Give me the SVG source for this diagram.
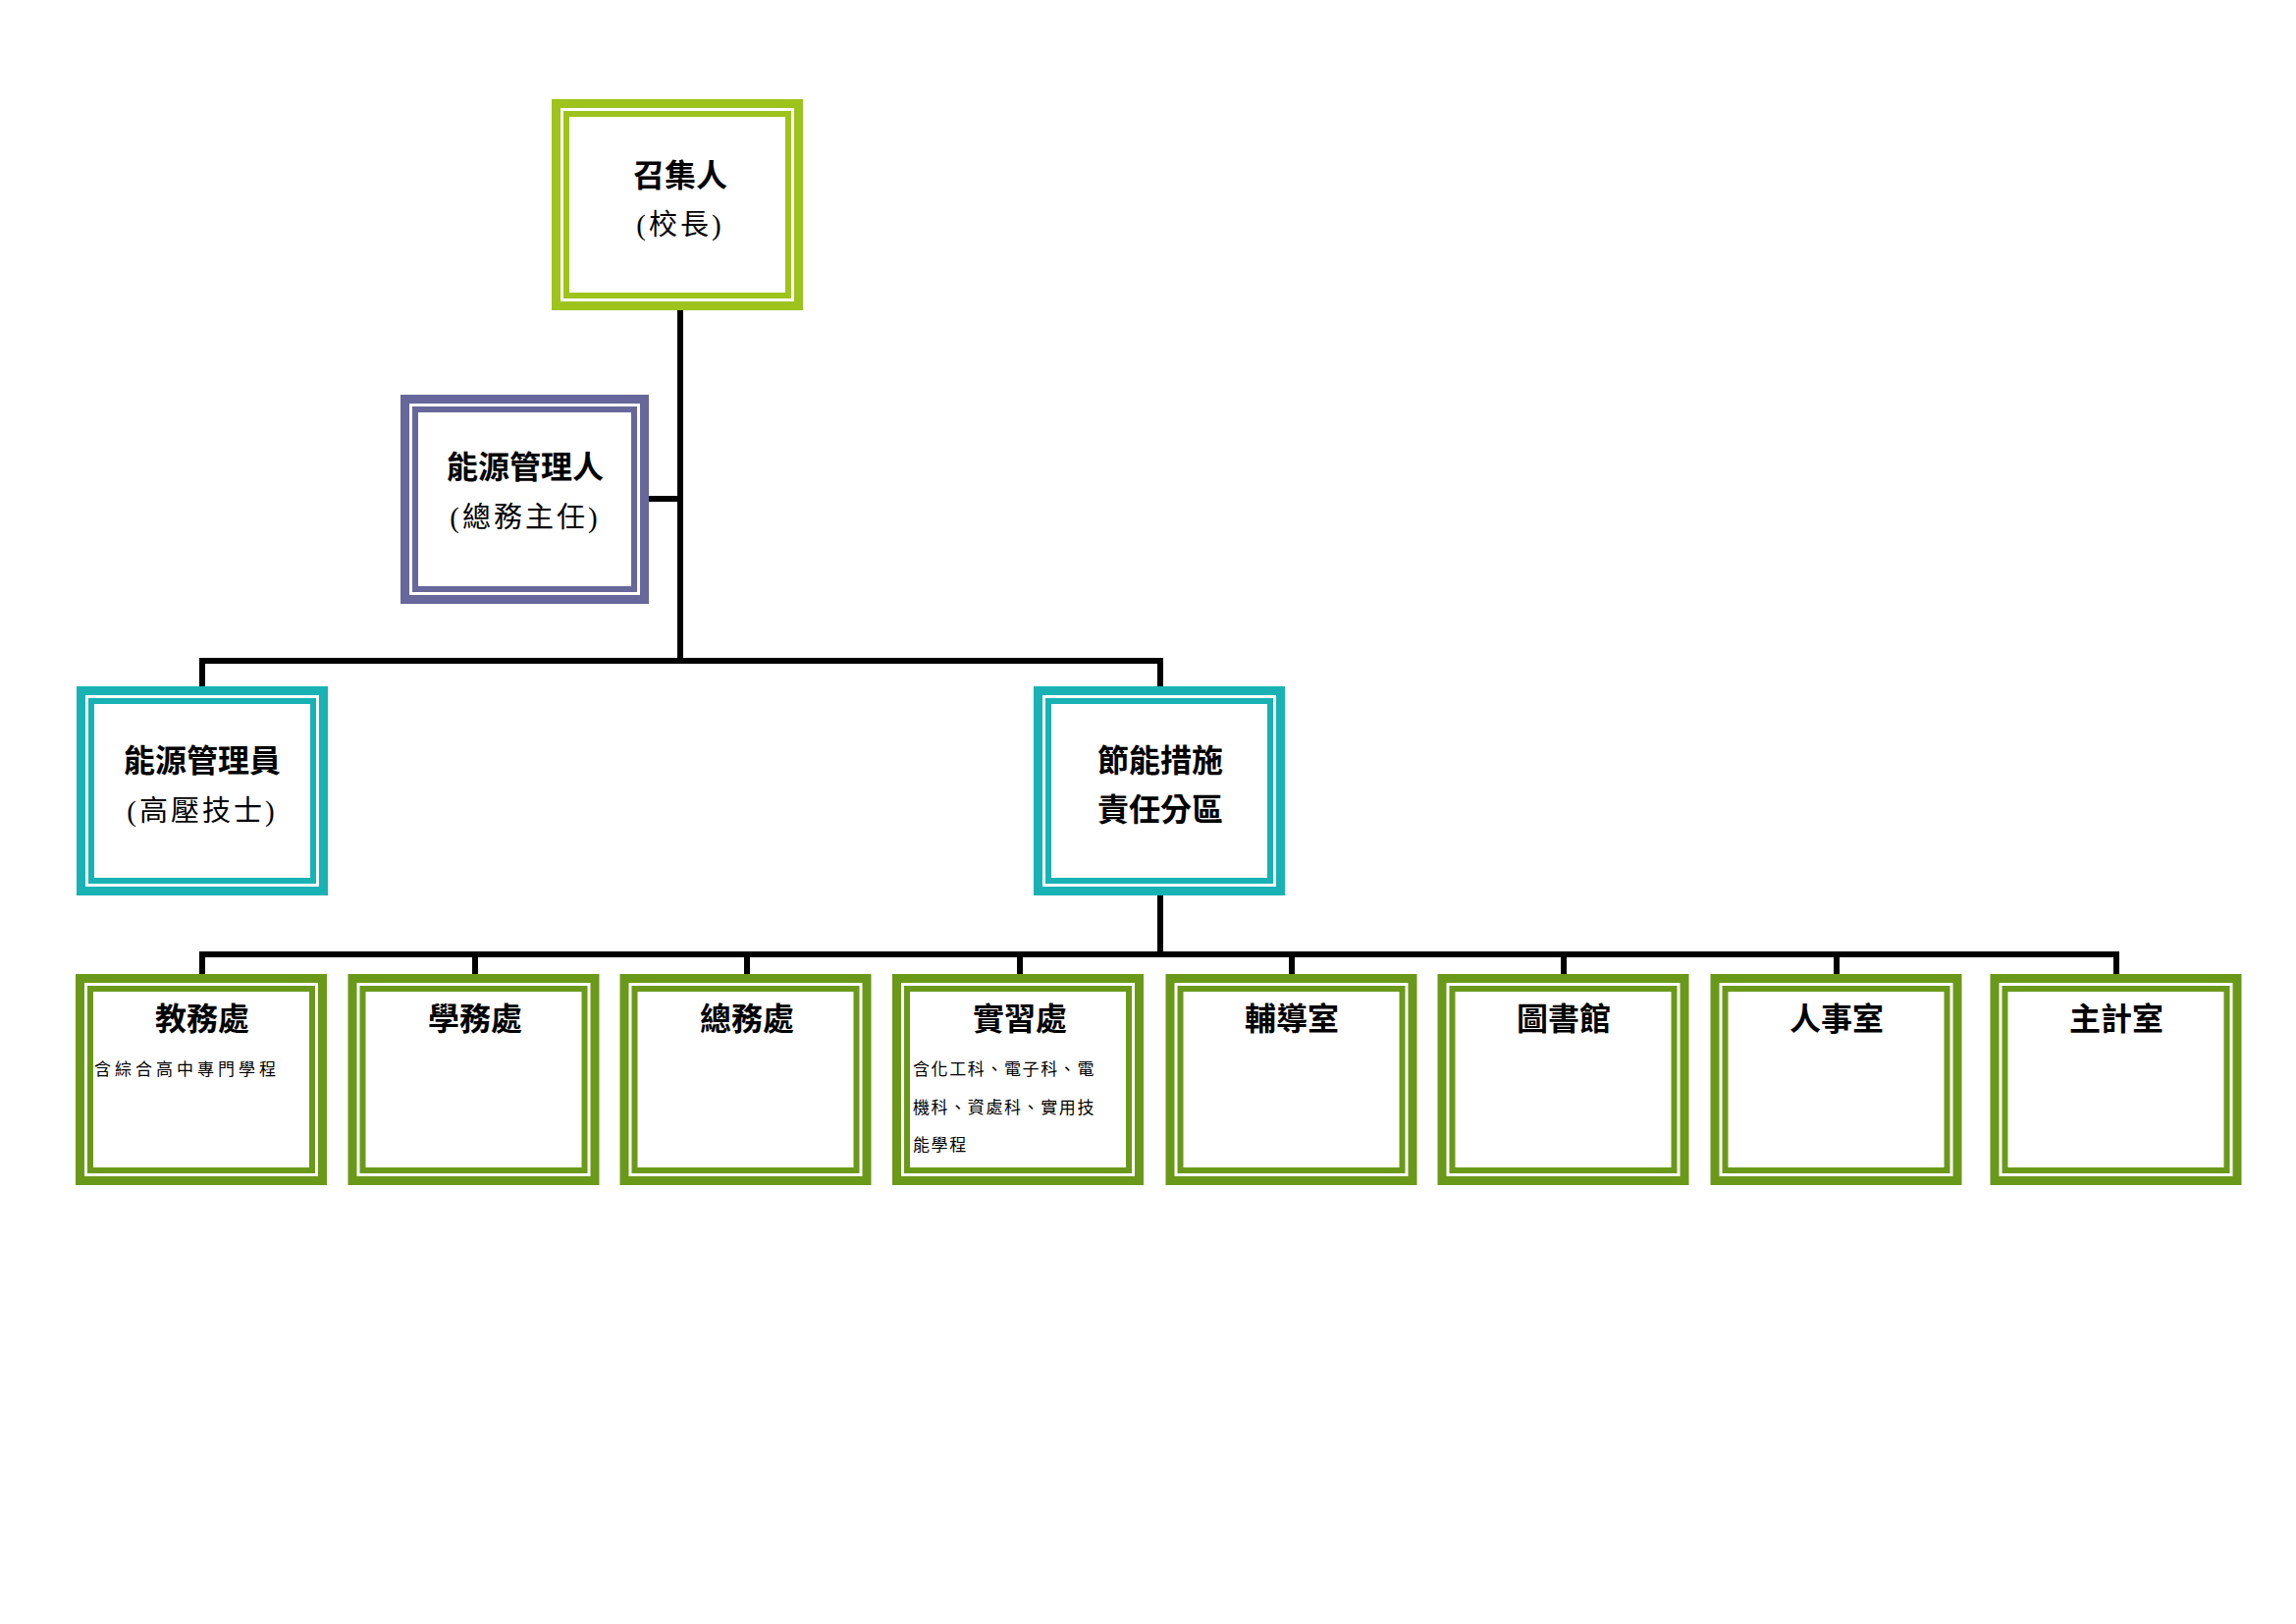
<svg xmlns="http://www.w3.org/2000/svg" width="2339" height="1654" viewBox="0 0 2339 1654">
<style>
.o{fill:none;stroke-width:9}
.i{fill:none;stroke-width:6}
.lime{stroke:#9dc31c}.teal{stroke:#19b2b4}.pur{stroke:#67679b}.grn{stroke:#6a991a}
.t{font-family:"Liberation Serif","Noto Sans CJK TC",serif;font-weight:bold;font-size:32px;text-anchor:middle;fill:#000}
.s{font-family:"Liberation Serif","Noto Sans CJK TC",serif;font-size:29px;text-anchor:middle;fill:#000;letter-spacing:3px}
.m{font-family:"Liberation Serif","Noto Sans CJK TC",serif;font-size:17px;fill:#000}
.c{fill:none;stroke:#000;stroke-width:6}
</style>
<rect width="2339" height="1654" fill="#fff"/>
<g id="connectors">
<path class="c" d="M693 316V673M661 508H693M206 673H1182M206 670V699M1182 670V699M1182 912V972M206 972H2156"/>
<path class="c" d="M206 969V992M484 969V992M761 969V992M1039 969V992M1316 969V992M1593 969V992M1871 969V992M2156 969V992"/>
</g>
<g id="n1"><rect class="o lime" x="566.5" y="105.5" width="247" height="206"/><rect class="i lime" x="577" y="116" width="226" height="185"/>
<text class="t" x="693" y="190">召集人</text><text class="s" x="693" y="239">(校長)</text></g>
<g id="n2"><rect class="o pur" x="412.5" y="406.5" width="244" height="204"/><rect class="i pur" x="423" y="417" width="223" height="183"/>
<text class="t" x="535" y="487">能源管理人</text><text class="s" x="535" y="537">(總務主任)</text></g>
<g id="n3"><rect class="o teal" x="82.5" y="703.5" width="247" height="204"/><rect class="i teal" x="93" y="714" width="226" height="183"/>
<text class="t" x="206" y="786">能源管理員</text><text class="s" x="206" y="836">(高壓技士)</text></g>
<g id="n4"><rect class="o teal" x="1057.5" y="703.5" width="247" height="204"/><rect class="i teal" x="1068" y="714" width="226" height="183"/>
<text class="t" x="1182" y="786">節能措施</text><text class="t" x="1182" y="836">責任分區</text></g>
<g id="b1"><rect class="o grn" x="81.5" y="996.5" width="247" height="206"/><rect class="i grn" x="92" y="1007" width="226" height="185"/>
<text class="t" x="206" y="1049">教務處</text><text class="m" x="96" y="1095" letter-spacing="4">含綜合高中專門學程</text></g>
<g id="b2"><rect class="o grn" x="359" y="996.5" width="247" height="206"/><rect class="i grn" x="369.5" y="1007" width="226" height="185"/>
<text class="t" x="484" y="1049">學務處</text></g>
<g id="b3"><rect class="o grn" x="636" y="996.5" width="247" height="206"/><rect class="i grn" x="646.5" y="1007" width="226" height="185"/>
<text class="t" x="761" y="1049">總務處</text></g>
<g id="b4"><rect class="o grn" x="913.5" y="996.5" width="247" height="206"/><rect class="i grn" x="924" y="1007" width="226" height="185"/>
<text class="t" x="1039" y="1049">實習處</text>
<text class="m" x="930" y="1095" letter-spacing="1.6">含化工科、電子科、電</text>
<text class="m" x="930" y="1134" letter-spacing="1.6">機科、資處科、實用技</text>
<text class="m" x="930" y="1172" letter-spacing="1.6">能學程</text></g>
<g id="b5"><rect class="o grn" x="1192" y="996.5" width="247" height="206"/><rect class="i grn" x="1202.5" y="1007" width="226" height="185"/>
<text class="t" x="1316" y="1049">輔導室</text></g>
<g id="b6"><rect class="o grn" x="1469" y="996.5" width="247" height="206"/><rect class="i grn" x="1479.5" y="1007" width="226" height="185"/>
<text class="t" x="1593" y="1049">圖書館</text></g>
<g id="b7"><rect class="o grn" x="1747" y="996.5" width="247" height="206"/><rect class="i grn" x="1757.5" y="1007" width="226" height="185"/>
<text class="t" x="1871" y="1049">人事室</text></g>
<g id="b8"><rect class="o grn" x="2032" y="996.5" width="247" height="206"/><rect class="i grn" x="2042.5" y="1007" width="226" height="185"/>
<text class="t" x="2156" y="1049">主計室</text></g>
</svg>
